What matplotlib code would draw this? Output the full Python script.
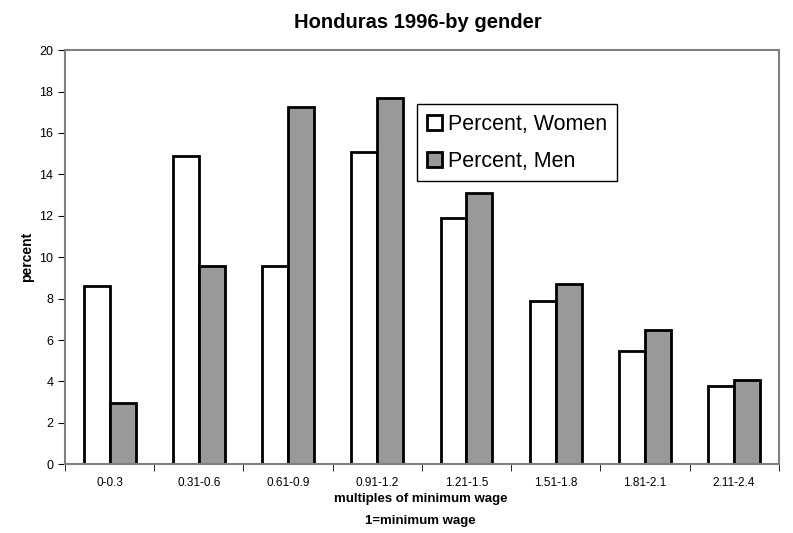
import matplotlib.pyplot as plt
import numpy as np

# Data
categories = ['0-0.3', '0.31-0.6', '0.61-0.9', '0.91-1.2',
              '1.21-1.5', '1.51-1.8', '1.81-2.1', '2.11-2.4']
women = [8.6, 14.9, 9.55, 15.1, 11.9, 7.9, 5.45, 3.8]
men = [2.95, 9.55, 17.25, 17.7, 13.1, 8.7, 6.5, 4.05]

plt.rcParams['font.family'] = ['Liberation Sans', 'DejaVu Sans']

fig = plt.figure(figsize=(7.93, 5.33), dpi=100)
ax = fig.add_axes([0.082, 0.129, 0.9, 0.777])

x = np.arange(len(categories))
w = 0.29
ax.bar(x - w / 2, women, w, color='white', edgecolor='black', linewidth=2,
       label='Percent, Women')
ax.bar(x + w / 2, men, w, color='#999999', edgecolor='black', linewidth=2,
       label='Percent, Men')

ax.set_xlim(-0.5, len(categories) - 0.5)
ax.set_ylim(0, 20)
ax.set_yticks(range(0, 21, 2))
ax.set_xticks(x)
ax.set_xticklabels(categories, fontsize=8.5)
ax.set_xticks(np.arange(-0.5, len(categories)), minor=True)
ax.tick_params(axis='x', which='major', length=0, pad=9)
ax.tick_params(axis='x', which='minor', length=5, direction='out', color='black')
ax.tick_params(axis='y', length=5, direction='out', labelsize=9)

for s in ax.spines.values():
    s.set_color('#808080')
    s.set_linewidth(1.5)

ax.set_ylabel('percent', fontsize=10, fontweight='bold', labelpad=4)
fig.text(0.527, 0.958, 'Honduras 1996-by gender', ha='center', va='center',
         fontsize=14.5, fontweight='bold')
fig.text(0.53, 0.063, 'multiples of minimum wage', ha='center', va='center',
         fontsize=9.5, fontweight='bold')
fig.text(0.53, 0.022, '1=minimum wage', ha='center', va='center',
         fontsize=9.5, fontweight='bold')

leg = ax.legend(loc='upper left', bbox_to_anchor=(0.493, 0.87), fontsize=15.5,
                fancybox=False, framealpha=1, edgecolor='black',
                handlelength=0.7, handleheight=0.7, handletextpad=0.3,
                borderpad=0.45, labelspacing=0.75, borderaxespad=0)
leg.get_frame().set_linewidth(1)

plt.savefig('out.png', dpi=100)
